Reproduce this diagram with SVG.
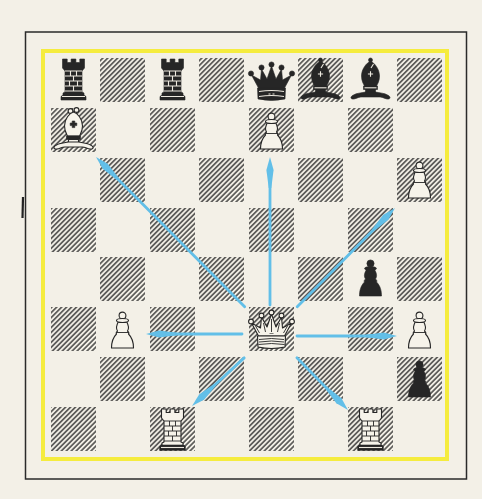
<svg xmlns="http://www.w3.org/2000/svg" xmlns:xlink="http://www.w3.org/1999/xlink" width="482" height="499" viewBox="0 0 482 499">
<style>
.blk{fill:#262626;stroke:#262626;stroke-width:0.6;stroke-linejoin:round}
.wht{fill:#f6f3ea;stroke:#262626;stroke-width:1.1;stroke-linejoin:round}
.wl{fill:none;stroke:#eeeae0;stroke-width:1.1}
.dl{fill:none;stroke:#262626;stroke-width:0.9}
.sq{fill:url(#hatch)}
.arr line{stroke:#62bfe8;stroke-width:2.8;stroke-linecap:round}
.arr use{fill:#62bfe8}
</style>
<defs>
<pattern id="hatch" width="3.5" height="3.5" patternUnits="userSpaceOnUse" patternTransform="rotate(45)">
<line x1="1.75" y1="-1" x2="1.75" y2="4.5" stroke="#2b2b2b" stroke-width="1.3"/>
</pattern>
<polygon id="head" points="0,0 -13,-3.6 -31,-1.3 -31,1.3 -13,3.6"/>
<g id="rook-b">
<path class="blk" d="M -12.5 20 L 12.5 20 L 12.5 16.5 L 10.5 15 L 10.5 13 L 8.5 12 L 8.5 -9 L 11 -12 L 11 -21 L 6.3 -21 L 6.3 -17.5 L 2.4 -17.5 L 2.4 -21 L -2.4 -21 L -2.4 -17.5 L -6.3 -17.5 L -6.3 -21 L -11 -21 L -11 -12 L -8.5 -9 L -8.5 12 L -10.5 13 L -10.5 15 L -12.5 16.5 Z"/>
<path class="wl" d="M -8.5 -9 H 8.5 M -8.5 -4 H 8.5 M -8.5 1 H 8.5 M -8.5 6 H 8.5 M -8.5 11 H 8.5 M -11.5 16.5 H 11.5 M -3 -9 V -4 M 3 -9 V -4 M 0 -4 V 1 M -4 1 V 6 M 4 1 V 6 M 0 6 V 11"/>
</g>
<g id="rook-w">
<path class="wht" d="M -12.5 20 L 12.5 20 L 12.5 16.5 L 10.5 15 L 10.5 13 L 8.5 12 L 8.5 -9 L 11 -12 L 11 -21 L 6.3 -21 L 6.3 -17.5 L 2.4 -17.5 L 2.4 -21 L -2.4 -21 L -2.4 -17.5 L -6.3 -17.5 L -6.3 -21 L -11 -21 L -11 -12 L -8.5 -9 L -8.5 12 L -10.5 13 L -10.5 15 L -12.5 16.5 Z"/>
<path class="blk" d="M -12.5 20 L 12.5 20 L 12.5 16.5 L 10.5 15 L -10.5 15 L -12.5 16.5 Z"/>
<path class="wl" d="M -11.5 17.5 H 11.5"/>
<path class="dl" d="M -8.5 -9 H 8.5 M -8.5 -4 H 8.5 M -8.5 1 H 8.5 M -8.5 6 H 8.5 M -8.5 11 H 8.5 M -3 -9 V -4 M 3 -9 V -4 M 0 -4 V 1 M -4 1 V 6 M 4 1 V 6 M 0 6 V 11"/>
</g>
<g id="queen-b">
<path class="blk" d="M -13 7 L -20 -6 L -11 -1 L -10 -12 L -4.5 -2 L 0 -15 L 4.5 -2 L 10 -12 L 11 -1 L 20 -6 L 13 7 Z"/>
<circle class="blk" cx="-20.5" cy="-7.5" r="2.6"/>
<circle class="blk" cx="-10" cy="-13.5" r="2.6"/>
<circle class="blk" cx="0" cy="-16.5" r="2.6"/>
<circle class="blk" cx="10" cy="-13.5" r="2.6"/>
<circle class="blk" cx="20.5" cy="-7.5" r="2.6"/>
<path class="blk" d="M -14 7 L 14 7 L 13.5 18 Q 0 21 -13.5 18 Z"/>
<path class="wl" d="M -12.5 10.5 Q 0 8.5 12.5 10.5 M -12.5 15.5 Q 0 13.5 12.5 15.5 M -3 13 H -1 M 1 13 H 3"/>
</g>
<g id="queen-w">
<path class="wht" d="M -13 7 L -20 -6 L -11 -1 L -10 -12 L -4.5 -2 L 0 -15 L 4.5 -2 L 10 -12 L 11 -1 L 20 -6 L 13 7 Z"/>
<circle class="wht" cx="-20.5" cy="-7.5" r="2.4"/>
<circle class="wht" cx="-10" cy="-13.5" r="2.4"/>
<circle class="wht" cx="0" cy="-16.5" r="2.4"/>
<circle class="wht" cx="10" cy="-13.5" r="2.4"/>
<circle class="wht" cx="20.5" cy="-7.5" r="2.4"/>
<path class="wht" d="M -14 7 L 14 7 L 13.5 18 Q 0 21 -13.5 18 Z"/>
<path class="dl" d="M -12.5 10.5 Q 0 8.5 12.5 10.5 M -12.5 13 Q 0 11 12.5 13 M -13 15.5 Q 0 13.5 13 15.5 M -16 -3 L -12 4 M 16 -3 L 12 4 M -8 -6 L -6 3 M 8 -6 L 6 3 M 0 -10 V 3"/>
<path class="blk" d="M -2 4.5 H 2" />
</g>
<g id="bishop-b">
<circle class="blk" cx="0" cy="-21" r="2"/>
<path class="blk" d="M 0 -20 C -4 -18 -9 -12 -9 -5 C -9 0 -7 3 -6 5 L 6 5 C 7 3 9 0 9 -5 C 9 -12 4 -18 0 -20 Z"/>
<path class="wl" d="M -2.6 -7 H 2.6 M 0 -9.8 V -4.2 M 3 -17 L 0.5 -13"/>
<path class="blk" d="M -7 5 H 7 V 8.5 H -7 Z M -5 8.5 H 5 V 11.5 H -5 Z"/>
<path class="wl" d="M -6 6.8 H 6"/>
<path class="blk" d="M -5 11 C -9 12 -14 12 -17 14 C -20.5 15.5 -20.5 18.5 -16.5 18 C -13 17.3 -11 15.5 -8 16 L 8 16 C 11 15.5 13 17.3 16.5 18 C 20.5 18.5 20.5 15.5 17 14 C 14 12 9 12 5 11 Z"/>
</g>
<g id="bishop-w">
<circle class="wht" cx="-3" cy="-20" r="2.4"/>
<circle class="wht" cx="3" cy="-21" r="2.4"/>
<path class="wht" d="M 0 -19 C -4 -18 -9 -12 -9 -5 C -9 0 -7 3 -6 5 L 6 5 C 7 3 9 0 9 -5 C 9 -12 4 -18 0 -19 Z"/>
<path class="blk" d="M -1.3 -10 H 1.3 V -8 H 3.3 V -5.4 H 1.3 V -3.4 H -1.3 V -5.4 H -3.3 V -8 H -1.3 Z"/>
<path class="blk" d="M -7 5 H 7 V 8.5 H -7 Z"/>
<path class="wht" d="M -5 8.5 H 5 V 11.5 H -5 Z"/>
<path class="wht" d="M -5 11 C -9 12 -14 12 -17 14 C -20.5 15.5 -20.5 18.5 -16.5 18 C -13 17.3 -11 15.5 -8 16 L 8 16 C 11 15.5 13 17.3 16.5 18 C 20.5 18.5 20.5 15.5 17 14 C 14 12 9 12 5 11 Z"/>
</g>
<g id="pawn-b">
<circle class="blk" cx="0" cy="-15.5" r="3.6"/>
<ellipse class="blk" cx="0" cy="-10.5" rx="6" ry="2"/>
<path class="blk" d="M -4 -9.5 C -6 -6 -7 -3 -5 0 C -6 1 -7 2 -6 3 C -10 7 -11 12 -11 17 L 11 17 C 11 12 10 7 6 3 C 7 2 6 1 5 0 C 7 -3 6 -6 4 -9.5 Z"/>
</g>
<g id="pawn-w">
<path class="wht" d="M -4 -9.5 C -6 -6 -7 -3 -5 0 C -6 1 -7 2 -6 3 C -10 7 -11 12 -11 17 L 11 17 C 11 12 10 7 6 3 C 7 2 6 1 5 0 C 7 -3 6 -6 4 -9.5 Z"/>
<circle class="wht" cx="0" cy="-15.5" r="3.4"/>
<ellipse class="wht" cx="0" cy="-10.5" rx="6" ry="2"/>
<path class="dl" d="M -6 1.5 H 6"/>
</g>
</defs>
<rect x="0" y="0" width="482" height="499" fill="#f3f0e7"/>
<rect x="25.5" y="32" width="441" height="447" fill="none" stroke="#2a2a2a" stroke-width="1.5"/>
<path d="M 23 197 L 22.5 218" stroke="#222" stroke-width="2.2" fill="none"/>
<rect x="43" y="51" width="404" height="408" fill="none" stroke="#f5ec3e" stroke-width="4"/>
<g id="board">
<rect class="sq" x="100" y="58" width="45" height="44"/><rect class="sq" x="199" y="58" width="45" height="44"/><rect class="sq" x="298" y="58" width="45" height="44"/><rect class="sq" x="397" y="58" width="45" height="44"/>
<rect class="sq" x="51" y="108" width="45" height="44"/><rect class="sq" x="150" y="108" width="45" height="44"/><rect class="sq" x="249" y="108" width="45" height="44"/><rect class="sq" x="348" y="108" width="45" height="44"/>
<rect class="sq" x="100" y="158" width="45" height="44"/><rect class="sq" x="199" y="158" width="45" height="44"/><rect class="sq" x="298" y="158" width="45" height="44"/><rect class="sq" x="397" y="158" width="45" height="44"/>
<rect class="sq" x="51" y="208" width="45" height="44"/><rect class="sq" x="150" y="208" width="45" height="44"/><rect class="sq" x="249" y="208" width="45" height="44"/><rect class="sq" x="348" y="208" width="45" height="44"/>
<rect class="sq" x="100" y="257" width="45" height="44"/><rect class="sq" x="199" y="257" width="45" height="44"/><rect class="sq" x="298" y="257" width="45" height="44"/><rect class="sq" x="397" y="257" width="45" height="44"/>
<rect class="sq" x="51" y="307" width="45" height="44"/><rect class="sq" x="150" y="307" width="45" height="44"/><rect class="sq" x="249" y="307" width="45" height="44"/><rect class="sq" x="348" y="307" width="45" height="44"/>
<rect class="sq" x="100" y="357" width="45" height="44"/><rect class="sq" x="199" y="357" width="45" height="44"/><rect class="sq" x="298" y="357" width="45" height="44"/><rect class="sq" x="397" y="357" width="45" height="44"/>
<rect class="sq" x="51" y="407" width="45" height="44"/><rect class="sq" x="150" y="407" width="45" height="44"/><rect class="sq" x="249" y="407" width="45" height="44"/><rect class="sq" x="348" y="407" width="45" height="44"/>
</g>
<g id="a8-rook"><use href="#rook-b" transform="translate(73.5,80)"/></g>
<g id="c8-rook"><use href="#rook-b" transform="translate(172.5,80)"/></g>
<g id="e8-queen"><use href="#queen-b" transform="translate(271.5,81)"/></g>
<g id="f8-bishop"><use href="#bishop-b" transform="translate(320.5,81)"/></g>
<g id="g8-bishop"><use href="#bishop-b" transform="translate(370.5,81)"/></g>
<g id="a7-bishop"><use href="#bishop-w" transform="translate(73.5,131)"/></g>
<g id="e7-pawn"><use href="#pawn-w" transform="translate(271.5,132)"/></g>
<g id="h6-pawn"><use href="#pawn-w" transform="translate(419.5,181)"/></g>
<g id="g4-pawn"><use href="#pawn-b" transform="translate(370.5,279)"/></g>
<g id="b3-pawn"><use href="#pawn-w" transform="translate(122.5,331)"/></g>
<g id="e3-queen"><use href="#queen-w" transform="translate(271.5,329)"/></g>
<g id="h3-pawn"><use href="#pawn-w" transform="translate(419.5,331)"/></g>
<g id="h2-pawn"><use href="#pawn-b" transform="translate(419.5,380)"/></g>
<g id="c1-rook"><use href="#rook-w" transform="translate(172.5,430)"/></g>
<g id="g1-rook"><use href="#rook-w" transform="translate(370.5,430)"/></g>
<g id="connectors" class="arr">
<g transform="translate(270,157) rotate(-90)"><line x1="-148" y1="0" x2="-20" y2="0"/><use href="#head"/></g>
<g transform="translate(96,157) rotate(-134.8)"><line x1="-211" y1="0" x2="-20" y2="0"/><use href="#head"/></g>
<g transform="translate(395,208) rotate(-45.3)"><line x1="-139" y1="0" x2="-20" y2="0"/><use href="#head"/></g>
<g transform="translate(146,334) rotate(180)"><line x1="-96" y1="0" x2="-20" y2="0"/><use href="#head"/></g>
<g transform="translate(397,336) rotate(0)"><line x1="-100" y1="0" x2="-20" y2="0"/><use href="#head"/></g>
<g transform="translate(192,406) rotate(137.3)"><line x1="-71" y1="0" x2="-20" y2="0"/><use href="#head"/></g>
<g transform="translate(348,410) rotate(45.6)"><line x1="-73" y1="0" x2="-20" y2="0"/><use href="#head"/></g>
</g>
</svg>
